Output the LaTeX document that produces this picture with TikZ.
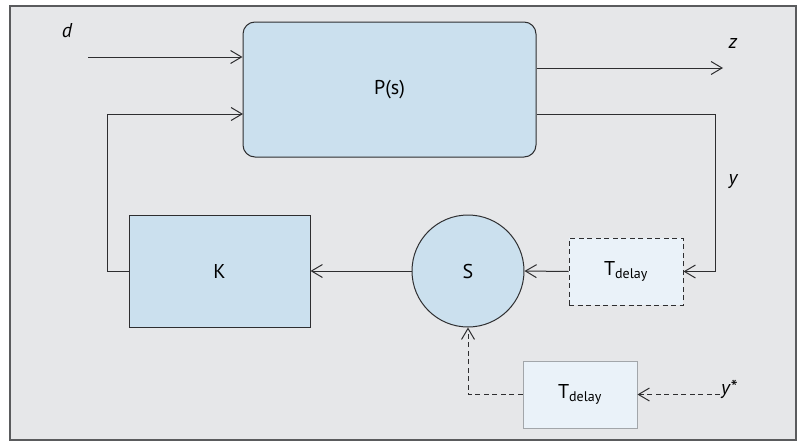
\documentclass[tikz,border=0pt]{standalone}
\usepackage{fontspec}
\setmainfont{PT Sans}
\definecolor{panelgray}{HTML}{E6E7E9}
\definecolor{framegray}{HTML}{5A5B5D}
\definecolor{lineink}{HTML}{2E2E30}
\definecolor{blockblue}{HTML}{CBE0EE}
\definecolor{paleblue}{HTML}{EAF2F9}
\definecolor{softgray}{HTML}{A2A6AA}
\usetikzlibrary{arrows.meta,positioning,calc}

\begin{document}
\begin{tikzpicture}[x=1pt,y=-1pt,
    font=\fontsize{20}{24}\selectfont,
    sig/.style={draw=lineink,line width=1pt,-{Straight Barb[length=11pt,width=13pt]}},
    dashsig/.style={sig,dash pattern=on 5pt off 3.5pt},
    block/.style={draw=lineink,line width=1pt,fill=blockblue,inner sep=0pt},
    delaybox/.style={line width=1pt,fill=paleblue,minimum width=114,minimum height=67,inner sep=0pt},
    lbl/.style={font=\fontsize{20}{24}\selectfont\itshape,inner sep=1pt}]
    \useasboundingbox (0,0) rectangle (803,447);
    \draw[framegray,fill=panelgray,line width=1.2pt] (10,6) rectangle (796,440);
    % blocks
    \node[block,rounded corners=12pt,minimum width=293,minimum height=135] (plant) at (389.5,89.5) {P(s)};
    \node[block,minimum width=181,minimum height=112] (ctrl) at (219.5,271) {K};
    \node[block,circle,minimum size=112] (sum) at (468,271) {S};
    \node[delaybox,draw=lineink,dash pattern=on 5pt off 3.5pt] (delayy) at (626,271.5) {T\textsubscript{delay}};
    \node[delaybox,draw=softgray] (delayref) at (580,394.5) {T\textsubscript{delay}};
    % signals
    \coordinate (dStart) at (88,57);
    \coordinate (uIn) at (243,114);
    \coordinate (zEnd) at (723,68);
    \coordinate (yTurn) at (715,114);
    \node[lbl] (dlab) at (67,31) {d};
    \node[lbl] (zlab) at (733,43) {z};
    \node[lbl] (ylab) at (733,182) {y};
    \node[lbl,anchor=west] (ystar) at (720,389) {y*};
    \draw[sig] (dStart) -- (dStart -| plant.west);
    \draw[sig] (plant.east |- zEnd) -- (zEnd);
    \draw[sig] (plant.east |- yTurn) -- (yTurn) |- (delayy.east);
    \draw[sig] (delayy.west) -- (sum.east);
    \draw[sig] (sum.west) -- (ctrl.east);
    \draw[sig] (ctrl.west) -- ++(-21,0) |- (uIn);
    \draw[dashsig] (ystar.west |- delayref.east) -- (delayref.east);
    \draw[dashsig] (delayref.west) -| (sum.south);
\end{tikzpicture}
\end{document}
